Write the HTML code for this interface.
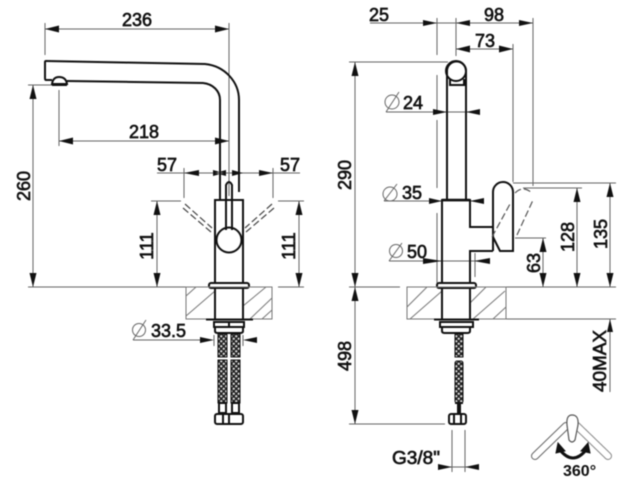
<!DOCTYPE html>
<html><head><meta charset="utf-8"><style>
html,body{margin:0;padding:0;background:#fff}
svg{display:block;filter:blur(.45px)}
text{font-family:"Liberation Sans",sans-serif;font-size:18px;fill:#111;stroke:#111;stroke-width:.65px}
.d{stroke:#666;stroke-width:1;fill:none}
.o{stroke:#111;stroke-width:2;fill:none}
.h{stroke:#777;stroke-width:1;fill:none}
.s{stroke:#888;stroke-width:1;fill:none}
.b{stroke:#666;stroke-width:1;fill:none;marker-start:url(#ms);marker-end:url(#m)}
</style></head><body>
<svg width="640" height="493" viewBox="0 0 640 493" xmlns="http://www.w3.org/2000/svg">
<defs>
<marker id="m" markerUnits="userSpaceOnUse" markerWidth="14" markerHeight="8" refX="14" refY="4" orient="auto"><path d="M0 .5L14 4L0 7.5z" fill="#111"/></marker>
<marker id="ms" markerUnits="userSpaceOnUse" markerWidth="14" markerHeight="8" refX="0" refY="4" orient="auto"><path d="M14 .5L0 4L14 7.5z" fill="#111"/></marker>
<pattern id="p" width="5" height="5" patternUnits="userSpaceOnUse"><rect width="5" height="5" fill="#222"/><circle cx="1.25" cy="1.25" r="1.15" fill="#ddd"/><circle cx="3.75" cy="3.75" r="1.15" fill="#ddd"/></pattern>
</defs>

<!-- LEFT: dimensions -->
<path class="d" d="M45 23V55M229 23V196M59 90V146M184 168V198M273 168V198"/>
<path class="b" d="M45 29H229"/>
<path class="b" d="M59 141H229"/>
<path class="d" d="M157 173H300"/>
<path d="M199 170L184 173L199 176zM259 170L273 173L259 176z" fill="#111"/>
<path d="M213 170L224 173L213 176zM226 170L215 173L226 176zM232 170L243 173L232 176z" fill="#111"/>
<path class="d" d="M28 85H55M151 201H181M278 201H304M28 287H186M278 287H304"/>
<path class="b" d="M33 85V287"/>
<path class="b" d="M157 201V287"/>
<path class="b" d="M299 201V287"/>
<text x="137" y="26" text-anchor="middle">236</text>
<text x="144" y="138" text-anchor="middle">218</text>
<text x="167" y="171" text-anchor="middle">57</text>
<text x="290" y="171" text-anchor="middle">57</text>
<text transform="translate(30,186) rotate(-90)" text-anchor="middle">260</text>
<text transform="translate(153,246) rotate(-90)" text-anchor="middle">111</text>
<text transform="translate(295,246) rotate(-90)" text-anchor="middle">111</text>
<circle cx="139" cy="330" r="6.5" class="d"/><path class="d" d="M133 340L146 320M133 340H200"/>
<text x="151" y="337">33.5</text>
<path class="d" d="M214 335V346M243 335V346"/>
<path d="M200 337L214 340L200 343zM257 337L243 340L257 343z" fill="#111"/>

<!-- LEFT: faucet -->
<path class="o" d="M52 80H46Q45 80 45 78V62Q45 61 46 61L205 64C225 66 239 82 239 100V192"/>
<path class="o" d="M67 81L203 83C213 84 220 91 220 100V200"/>
<path class="o" d="M52 84Q53 77 59 77Q66 77 67 84ZM52 85H67" stroke-width="1.5"/>
<path class="o" d="M215 283V200H243V283"/>
<path class="o" d="M226 230V185Q229 179 232 185V230" fill="#fff"/>
<circle cx="229" cy="240" r="12.5" class="o" fill="#fff"/>
<g stroke="#444" stroke-width="1.2" fill="none" stroke-dasharray="7 3">
<path d="M185 204L212 228M183 208L211 232M272 204L245 228M274 208L246 232"/></g>
<rect x="209" y="283" width="40" height="5" rx="2" class="o" fill="#fff"/>
<!-- left counter -->
<rect x="186" y="287" width="86" height="32" class="h"/>
<path class="h" d="M186 296L196 287M186 316L215 291M243 306L266 287M243 319L250 319L272 298M262 319L272 310"/>
<path class="o" d="M215 288V319M243 288V319"/>
<path class="o" d="M206 319.5H253" stroke-width="2.6"/>
<rect x="214" y="322" width="30" height="5" class="o"/>
<path class="o" d="M229 322V327"/>
<path class="o" d="M215 327V331Q215 333 218 333H240Q243 333 243 331V327"/>
<rect x="218" y="334" width="9" height="23" fill="url(#p)" stroke="#111"/>
<rect x="231" y="334" width="9" height="23" fill="url(#p)" stroke="#111"/>
<rect x="218" y="360" width="9" height="43" fill="url(#p)" stroke="#111"/>
<rect x="231" y="360" width="9" height="43" fill="url(#p)" stroke="#111"/>
<path class="o" d="M219 403V413H226V403M232 403V413H239V403M218 403H227M231 403H240" stroke-width="1.4"/>
<rect x="215" y="414" width="28" height="10" rx="2" class="o"/>
<path class="o" d="M223 414V424M229 414V424" stroke-width="1.3"/>

<!-- RIGHT: dimensions -->
<path class="d" d="M437 18V55M437 75V110M437 120V188M437 213V283M456 18V56M533 18V186M513 44V182"/>
<path class="d" d="M370 23H533"/>
<path d="M423 20L437 23L423 26zM470 20L456 23L470 26zM519 20L533 23L519 26z" fill="#111"/>
<path class="b" d="M456 49H513"/>
<text x="379" y="21" text-anchor="middle">25</text>
<text x="494" y="21" text-anchor="middle">98</text>
<text x="485" y="47" text-anchor="middle">73</text>
<path class="d" d="M349 62H448M349 287H400M478 287H616M349 424H445M503 319H616M513 183H616M523 188H582M515 238H546"/>
<path class="b" d="M355 62V287"/>
<path class="b" d="M355 287V424"/>
<path class="b" d="M543 238V287"/>
<path class="b" d="M577 188V287"/>
<path class="b" d="M610 183V287"/>
<path class="d" d="M610 319V392"/>
<path d="M607 332L610 319L613 332z" fill="#111"/>
<text transform="translate(351,175) rotate(-90)" text-anchor="middle">290</text>
<text transform="translate(351,356) rotate(-90)" text-anchor="middle">498</text>
<text transform="translate(540,263) rotate(-90)" text-anchor="middle">63</text>
<text transform="translate(574,237) rotate(-90)" text-anchor="middle">128</text>
<text transform="translate(607,234) rotate(-90)" text-anchor="middle">135</text>
<text transform="translate(606,361) rotate(-90)" text-anchor="middle" textLength="62" lengthAdjust="spacingAndGlyphs">40MAX</text>
<!-- diameters -->
<circle cx="392" cy="102" r="7" class="d"/><path class="d" d="M386 112L399 92M386 112H480"/>
<text x="403" y="109">24</text>
<path d="M433 109L447 112L433 115zM480 109L466 112L480 115z" fill="#111"/>
<circle cx="390" cy="194" r="7" class="d"/><path class="d" d="M384 201L397 184M384 201H484"/>
<text x="402" y="199">35</text>
<path d="M429 198L442 201L429 204zM484 198L470 201L484 204z" fill="#111"/>
<circle cx="396" cy="251" r="6.5" class="d"/><path class="d" d="M389 261L402 243M389 261H490M475 253V277"/>
<text x="407" y="258">50</text>
<path d="M423 258L442 261L423 264zM490 258L474 261L490 264z" fill="#111"/>
<path class="d" d="M452 430V472M465 430V472M438 467H479"/>
<path d="M438 464L452 467L438 470zM479 464L465 467L479 470z" fill="#111"/>
<text x="392" y="464" textLength="48" lengthAdjust="spacingAndGlyphs">G3/8"</text>

<!-- RIGHT: faucet -->
<path class="o" d="M447 200V71A9.5 9.5 0 0 1 466 71V200"/>
<circle cx="456" cy="71" r="10" class="o" fill="#fff"/>
<path class="o" d="M450 79V85H464V79" stroke-width="1.2"/>
<path class="o" d="M442 283V200H470V227H493M470 283V251H493" />
<path d="M442 200H470" stroke="#111" stroke-width="2.6"/>
<path class="o" d="M493 251V192A10 10 0 0 1 513 192V251H500L493 237" fill="#fff"/>
<path d="M492 237L510 204" stroke="#555" stroke-width="1.2" stroke-dasharray="7 3" fill="none"/>
<path d="M517 235L533 200M515 193Q523 185 532 193" stroke="#555" stroke-width="1.2" stroke-dasharray="7 3" fill="none"/>
<rect x="437" y="283" width="39" height="5" rx="2" class="o" fill="#fff"/>
<rect x="407" y="287" width="99" height="32" class="h"/>
<path class="h" d="M407 307L427 287M410 319L442 291M470 303L486 287M470 319H473L505 291M493 319L506 307"/>
<path class="o" d="M442 288V319M470 288V319"/>
<path class="o" d="M434 319.5H479" stroke-width="2.6"/>
<rect x="440" y="322" width="33" height="5" class="o"/>
<path class="o" d="M442 327V331Q442 333 445 333H467Q470 333 470 331V327"/>
<rect x="455" y="334" width="8" height="23" fill="url(#p)" stroke="#111"/>
<rect x="455" y="361" width="8" height="42" rx="2" fill="url(#p)" stroke="#111"/>
<path class="o" d="M458 403V414M460 403V414M455 403H463" stroke-width="1.3"/>
<rect x="449" y="414" width="17" height="10" rx="2" class="o"/>
<path class="o" d="M454 414V424M461 414V424" stroke-width="1.2"/>

<!-- 360 icon -->
<path d="M608 456L577 426" stroke="#888" stroke-width="8" stroke-linecap="round" stroke-dasharray="2 1" fill="none"/>
<path d="M608 456L577 426" stroke="#fff" stroke-width="6" stroke-linecap="round" fill="none"/>
<path d="M535 456L566 426" stroke="#666" stroke-width="8" stroke-linecap="round" fill="none"/>
<path d="M535 456L566 426" stroke="#fff" stroke-width="6" stroke-linecap="round" fill="none"/>
<path d="M572 415Q579 415 578 425L575 440Q572 444 569 440L567 425Q566 415 572 415Z" stroke="#555" stroke-width="1.2" fill="#fff"/>
<path d="M560 450Q573 466 586 450" stroke="#111" stroke-width="3" fill="none"/>
<path d="M558 443L556 453L565 451zM588 443L590 453L581 451z" fill="#111" stroke="#111"/>
<text x="563" y="476" style="font-size:16px;font-weight:bold;stroke:none">360°</text>
</svg>
</body></html>
